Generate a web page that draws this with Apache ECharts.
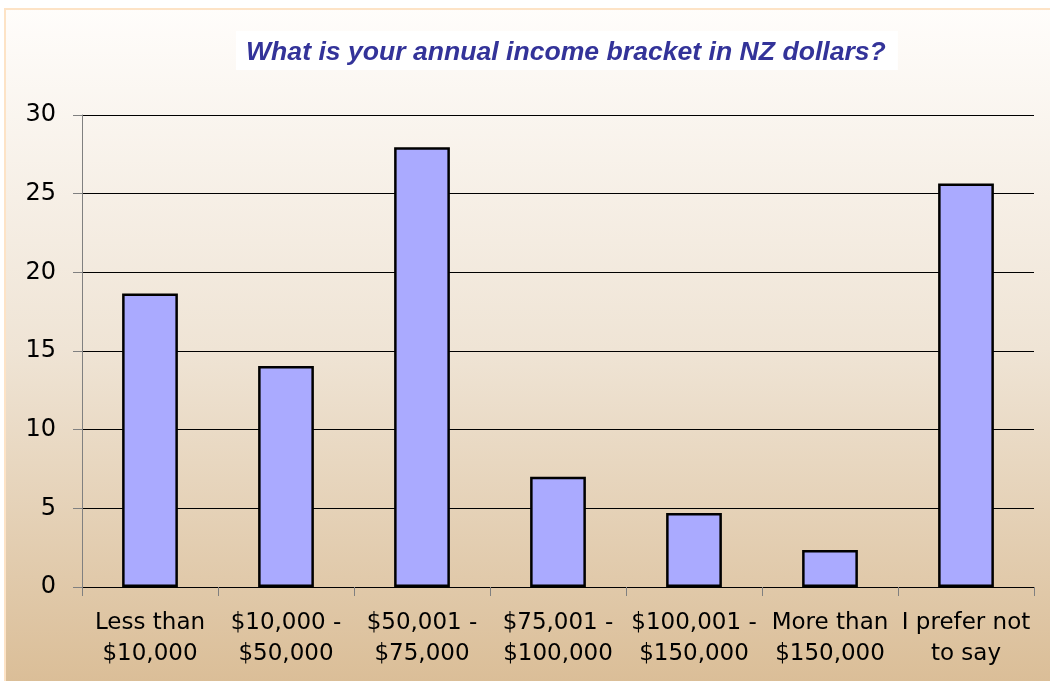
<!DOCTYPE html>
<html>
<head>
<meta charset="utf-8">
<title>Annual income bracket</title>
<script src="https://cdn.jsdelivr.net/npm/echarts@6/dist/echarts.min.js"></script>
<style>
  html, body { margin: 0; padding: 0; background: #ffffff; }
  #chart { width: 1050px; height: 681px; }
</style>
</head>
<body>
<div id="chart"></div>
<script>
// income brackets (x axis)
const categories = [
  'Less than\n$10,000',
  '$10,000 -\n$50,000',
  '$50,001 -\n$75,000',
  '$75,001 -\n$100,000',
  '$100,001 -\n$150,000',
  'More than\n$150,000',
  'I prefer not\nto say'
]
// percentage of respondents
const values = [18.65, 14.05, 27.95, 7.0, 4.7, 2.35, 25.65]
const yTicks = { min: 0, max: 30, interval: 5 }
const titleText = 'What is your annual income bracket in NZ dollars?'

const chart = echarts.init(document.getElementById('chart'))

chart.setOption({
  animation: false,
  backgroundColor: '#ffffff',
  // framed gradient panel behind the chart
  graphic: [
    {
      type: 'rect',
      z: -10,
      shape: { x: 5, y: 9, width: 1050, height: 680 },
      style: {
        fill: new echarts.graphic.LinearGradient(0, 0, 0, 1, [
          { offset: 0, color: '#fffdfb' },
          { offset: 0.5, color: '#efe4d5' },
          { offset: 1, color: '#dabd96' }
        ]),
        stroke: '#fde3c6',
        lineWidth: 2
      }
    }
  ],
  title: {
    text: titleText,
    left: 236,
    top: 31,
    backgroundColor: '#ffffff',
    padding: [7, 12, 3, 10],
    textStyle: {
      fontFamily: 'Liberation Sans',
      fontStyle: 'italic',
      fontWeight: 'bold',
      fontSize: 26.6,
      lineHeight: 29,
      color: '#333399'
    }
  },
  grid: {
    left: 82,
    right: 16,
    top: 115,
    bottom: 94,
    containLabel: false
  },
  xAxis: {
    type: 'category',
    data: categories,
    axisLine: { lineStyle: { color: '#000000', width: 1 } },
    axisTick: { show: true, length: 9, lineStyle: { color: '#808080' } },
    axisLabel: {
      interval: 0,
      margin: 21,
      fontFamily: 'DejaVu Sans',
      fontSize: 23,
      lineHeight: 31,
      color: '#000000'
    }
  },
  yAxis: {
    type: 'value',
    min: yTicks.min,
    max: yTicks.max,
    interval: yTicks.interval,
    axisLine: { show: true, lineStyle: { color: '#808080', width: 1 } },
    axisTick: { show: true, length: 9, lineStyle: { color: '#808080' } },
    splitLine: { show: true, lineStyle: { color: '#000000', width: 1 } },
    axisLabel: {
      margin: 26,
      fontFamily: 'DejaVu Sans',
      fontSize: 24,
      color: '#000000'
    }
  },
  series: [
    {
      type: 'bar',
      data: values,
      barWidth: '41%',
      itemStyle: {
        color: '#aaaaff',
        borderColor: '#000000',
        borderWidth: 2.5
      }
    }
  ]
})
</script>
</body>
</html>
